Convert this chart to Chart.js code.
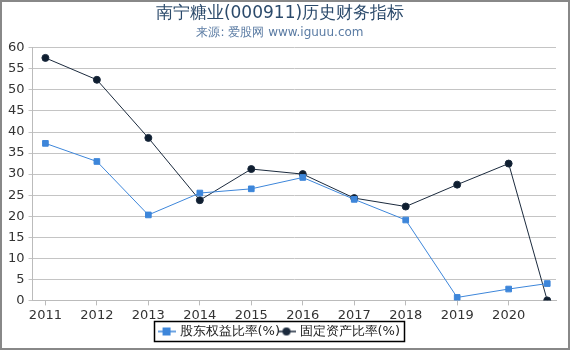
<!DOCTYPE html>
<html>
<head>
<meta charset="utf-8">
<script src="https://cdn.jsdelivr.net/npm/chart.js@4/dist/chart.umd.min.js"></script>
<style>
  html, body { margin: 0; padding: 0; background: #fff; }
  .chart { position: relative; width: 566px; height: 346px; border: 2px solid #888; }
</style>
</head>
<body>
<div class="chart"><canvas id="c"></canvas></div>
<script>
// report dates as fractional years (last one is 2020 Q3)
const periods = [2011, 2012, 2013, 2014, 2015, 2016, 2017, 2018, 2019, 2020, 2020.75];
const yearLabels = [2011, 2012, 2013, 2014, 2015, 2016, 2017, 2018, 2019, 2020];
const equityRatio = [37.3, 33.0, 20.3, 25.5, 26.5, 29.2, 24.0, 19.1, 0.7, 2.7, 4.0];
const fixedAssetRatio = [57.6, 52.4, 38.6, 23.8, 31.2, 30.0, 24.3, 22.3, 27.5, 32.5, 0.0];

const toPoints = (vals) => vals.map((v, i) => ({ x: periods[i], y: v }));

// small legend icon: line with the marker in the middle
function legendIcon(color, shape) {
  const cv = document.createElement('canvas');
  cv.width = 18; cv.height = 10;
  const g = cv.getContext('2d');
  g.strokeStyle = color; g.fillStyle = color; g.lineWidth = 1.5;
  g.beginPath(); g.moveTo(0, 5); g.lineTo(18, 5); g.stroke();
  if (shape === 'rect') g.fillRect(5, 1, 8, 8);
  else { g.beginPath(); g.arc(9, 5, 4, 0, Math.PI * 2); g.fill(); }
  return cv;
}

const legendBorder = {
  id: 'legendBorder',
  afterDraw(chart) {
    const boxes = chart.legend.legendHitBoxes;
    if (!boxes || !boxes.length) return;
    let l = Infinity, r = -Infinity, t = Infinity, b = -Infinity;
    boxes.forEach(h => {
      l = Math.min(l, h.left); r = Math.max(r, h.left + h.width);
      t = Math.min(t, h.top); b = Math.max(b, h.top + h.height);
    });
    const ctx = chart.ctx;
    ctx.save();
    ctx.strokeStyle = '#000';
    ctx.lineWidth = 1.5;
    ctx.strokeRect(Math.round(l - 6) + 0.5, Math.round(t - 4) + 0.5, Math.round(r - l + 10), Math.round(b - t + 7));
    ctx.restore();
  }
};

new Chart(document.getElementById('c'), {
  type: 'line',
  data: {
    datasets: [
      {
        label: '股东权益比率(%)',
        data: toPoints(equityRatio),
        borderColor: '#3d86da',
        backgroundColor: '#3d86da',
        borderWidth: 1,
        pointStyle: 'rect',
        pointRadius: 4,
        pointHoverRadius: 4,
      },
      {
        label: '固定资产比率(%)',
        data: toPoints(fixedAssetRatio),
        borderColor: '#1b2a3d',
        backgroundColor: '#0f1e30',
        borderWidth: 1,
        pointStyle: 'circle',
        pointRadius: 3.5,
        pointHoverRadius: 3.5,
      },
    ],
  },
  options: {
    responsive: true,
    maintainAspectRatio: false,
    animation: false,
    layout: { padding: { left: 2, right: 12, top: 1, bottom: 0 } },
    font: { family: 'DejaVu Sans' },
    plugins: {
      title: {
        display: true,
        text: '南宁糖业(000911)历史财务指标',
        color: '#2b4a6b',
        font: { family: 'DejaVu Sans', size: 17, weight: 'normal' },
        padding: { top: 0, bottom: 0 },
      },
      subtitle: {
        display: true,
        text: '来源: 爱股网 www.iguuu.com',
        color: '#5a7ba3',
        font: { family: 'DejaVu Sans', size: 12 },
        padding: { top: 2, bottom: 8 },
      },
      legend: {
        position: 'bottom',
        labels: {
          usePointStyle: true,
          padding: 0,
          color: '#222',
          font: { family: 'DejaVu Sans', size: 13 },
          generateLabels: (chart) => chart.data.datasets.map((ds, i) => ({
            text: ds.label,
            fontColor: '#222',
            pointStyle: legendIcon(ds.borderColor, ds.pointStyle),
            datasetIndex: i,
            hidden: false,
            lineWidth: 0,
          })),
        },
      },
      tooltip: { enabled: false },
    },
    scales: {
      x: {
        type: 'linear',
        min: 2010.75,
        max: 2020.92,
        afterBuildTicks: (axis) => { axis.ticks = yearLabels.map(v => ({ value: v })); },
        ticks: {
          callback: (v) => String(v),
          color: '#333',
          font: { family: 'DejaVu Sans', size: 13 },
          maxRotation: 0,
          autoSkip: false,
          padding: 2,
        },
        grid: { drawOnChartArea: false, drawTicks: true, tickLength: 5, color: '#bbb' },
        border: { color: '#bbb' },
      },
      y: {
        min: 0,
        max: 60,
        ticks: {
          stepSize: 5,
          color: '#333',
          font: { family: 'DejaVu Sans', size: 13 },
          padding: 4,
        },
        grid: { color: '#c4c4c4', tickLength: 4 },
        border: { color: '#bbb' },
      },
    },
  },
  plugins: [legendBorder],
});
</script>
</body>
</html>
